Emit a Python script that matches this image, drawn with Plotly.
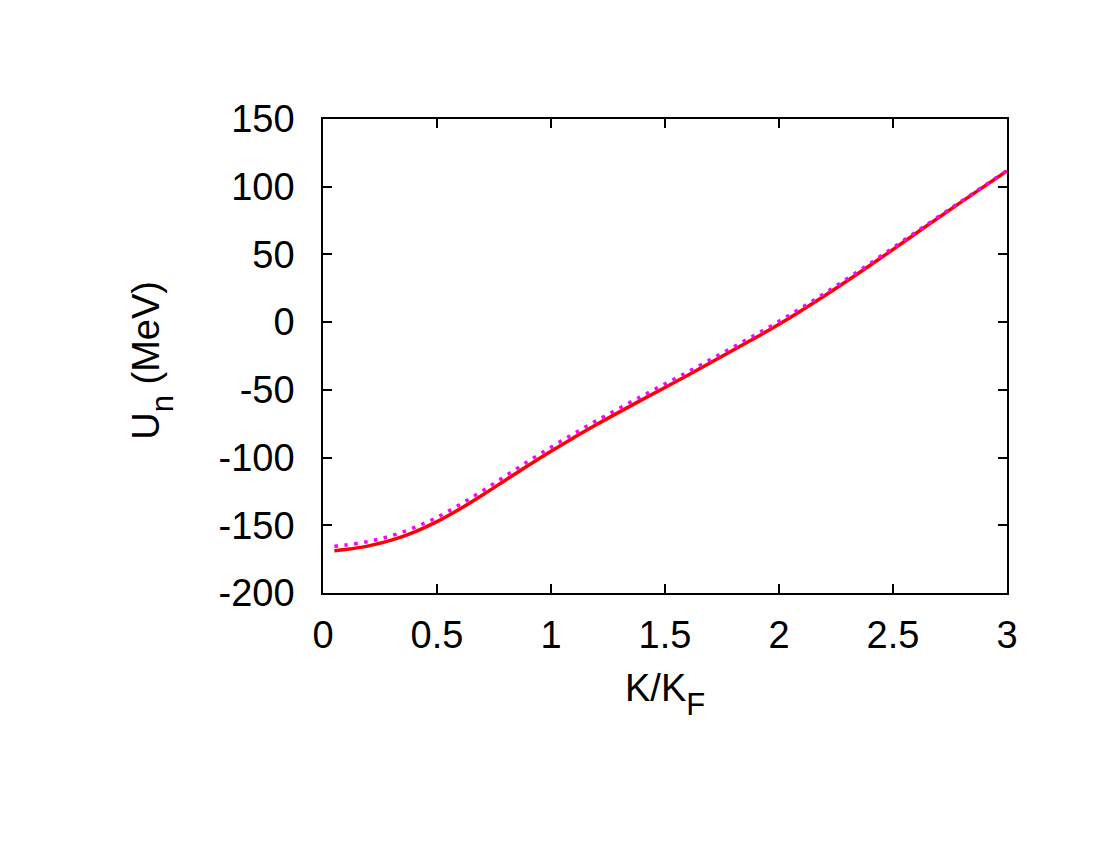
import plotly.graph_objects as go

k_ratio = [0.05, 0.1, 0.2, 0.3, 0.4, 0.5, 0.6, 0.7, 0.8, 0.9, 1.0, 1.1, 1.2, 1.4, 1.6, 1.8, 2.0, 2.2, 2.4, 2.6, 2.8, 3.0]
u_solid = [-168.8, -167.9, -165.2, -161.0, -155.0, -147.3, -138.0, -127.6, -116.7, -105.8, -95.3, -85.3, -75.6, -57.2, -39.2, -20.6, -1.6, 19.5, 42.0, 65.5, 88.8, 111.6]
u_dotted = [-165.5, -164.6, -161.9, -157.7, -151.7, -144.1, -134.8, -124.5, -113.6, -102.7, -92.3, -82.4, -72.7, -54.5, -36.7, -18.3, 0.6, 21.3, 43.5, 66.5, 89.4, 112.0]

xticks = [0, 0.5, 1, 1.5, 2, 2.5, 3]
xtick_labels = ["0", "0.5", "1", "1.5", "2", "2.5", "3"]
yticks = [150, 100, 50, 0, -50, -100, -150, -200]
ytick_labels = ["150", "100", "50", "0", "-50", "-100", "-150", "-200"]

FONT = "Liberation Sans, Arial, sans-serif"

fig = go.Figure()
fig.add_trace(go.Scatter(x=k_ratio, y=u_solid, mode="lines",
                         line=dict(color="#ff0000", width=3.5, shape="spline"),
                         showlegend=False))
fig.add_trace(go.Scatter(x=k_ratio, y=u_dotted, mode="lines",
                         line=dict(color="#ff00ff", width=3.5, dash="3.5px,6.5px", shape="spline"),
                         showlegend=False))

axis_common = dict(showgrid=False, zeroline=False, showline=True, linecolor="black",
                   linewidth=1.5, mirror="ticks", ticks="inside", ticklen=9,
                   tickwidth=1.5, tickcolor="black",
                   tickfont=dict(family=FONT, size=38, color="black"))

fig.update_xaxes(range=[0, 3], tickvals=xticks, ticktext=xtick_labels,
                 ticklabelstandoff=8, **axis_common)
fig.update_yaxes(range=[-200, 150], tickvals=yticks, ticktext=ytick_labels,
                 ticklabelstandoff=19, **axis_common)

fig.add_annotation(text="U<span style='font-size:31px;baseline-shift:-14px'>n</span> (MeV)",
                   xref="paper", yref="paper",
                   x=-0.2485, y=0.49, textangle=-90, showarrow=False,
                   xanchor="center", yanchor="middle",
                   font=dict(family=FONT, size=38, color="black"))
fig.add_annotation(text="K/K<sub><sub><span style='font-size:31px'>F</span></sub></sub>",
                   xref="paper", yref="paper",
                   x=0.5, y=-0.215, showarrow=False,
                   xanchor="center", yanchor="middle",
                   font=dict(family=FONT, size=38, color="black"))

fig.update_layout(width=1100, height=850, paper_bgcolor="white", plot_bgcolor="white",
                  margin=dict(l=315, r=101, t=111, b=265))

fig.write_html("out.html")
